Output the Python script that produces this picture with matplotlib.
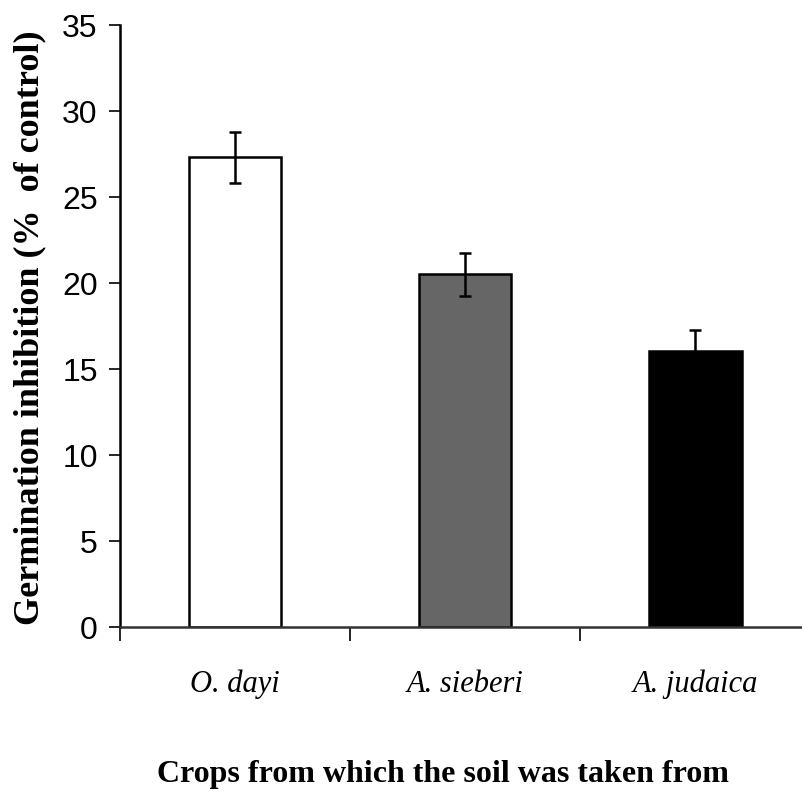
import matplotlib
matplotlib.use("Agg")
from matplotlib import pyplot as plt
import numpy as np

# data
crops = ["O. dayi", "A. sieberi", "A. judaica"]
inhibition = [27.3, 20.5, 16.05]
errors = [1.5, 1.25, 1.2]
bar_colors = ["white", "#666666", "black"]
y_ticks = [0, 5, 10, 15, 20, 25, 30, 35]

sans = "Liberation Sans"
serif = "Liberation Serif"

fig = plt.figure(figsize=(8.02, 8.03), dpi=100)
ax = fig.add_axes([0.1496, 0.218, 0.8504, 0.7497])

ind = np.arange(len(crops))
ax.bar(ind, inhibition, width=0.404, color=bar_colors, edgecolor="black", linewidth=1.8,
       yerr=errors, error_kw=dict(ecolor="black", elinewidth=1.8, capsize=4, capthick=1.8),
       zorder=2)

ax.set_xlim(-0.5, 2.465)
ax.set_ylim(0, 35)
ax.set_yticks(y_ticks)
ax.set_yticklabels([str(v) for v in y_ticks], fontsize=23, family=sans)
ax.tick_params(axis="y", length=8, width=1.2, pad=8)

# ticks between categories, labels under bars
ax.set_xticks(ind - 0.5)
ax.set_xticklabels([])
ax.tick_params(axis="x", which="major", length=10, width=1.2)
ax.set_xticks(ind, minor=True)
ax.set_xticklabels(crops, minor=True, fontsize=22, style="italic", family=serif)
ax.tick_params(axis="x", which="minor", length=0, pad=30)

for side in ["top", "right"]:
    ax.spines[side].set_visible(False)
ax.spines["left"].set_linewidth(1.8)
ax.spines["bottom"].set_linewidth(1.8)
ax.spines["bottom"].set_color("#333333")

fig.text(30 / 802, 0.592, "Germination inhibition (%  of control)", rotation=90,
         ha="center", va="center", fontsize=26, fontweight="bold", family=serif)
fig.text(0.552, 0.035, "Crops from which the soil was taken from", ha="center", va="center",
         fontsize=23, fontweight="bold", family=serif)

plt.savefig("out.png", dpi=100)
